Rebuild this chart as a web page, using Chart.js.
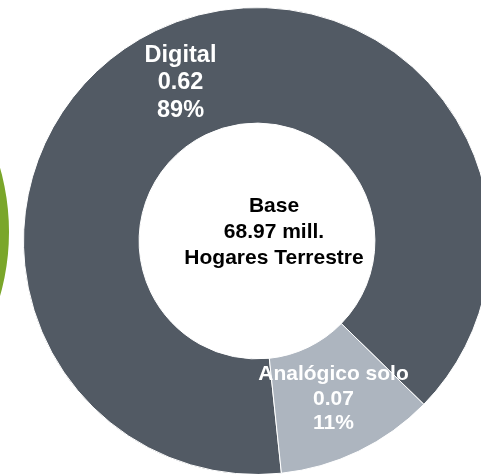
<!DOCTYPE html>
<html>
<head>
<meta charset="utf-8">
<script src="https://cdn.jsdelivr.net/npm/chart.js@4"></script>
<style>
  html, body { margin: 0; padding: 0; background: #fff; overflow: hidden; }
  body { width: 481px; height: 474px; position: relative; }
  #mainChart { position: absolute; left: 23px; top: 7px; }
  #sideChart { position: absolute; left: -461px; top: -3px; }
</style>
</head>
<body>
<canvas id="sideChart" width="470" height="470"></canvas>
<canvas id="mainChart" width="468" height="468"></canvas>
<script>
// datos del gráfico
var categories = ['Digital', 'Analógico solo'];
var shares = [89, 11];            // porcentaje
var millions = ['0.62', '0.07'];  // millones de hogares
var sliceColors = ['#525a64', '#adb5bf'];
var centerLines = ['Base', '68.97 mill.', 'Hogares Terrestre'];

// gráfico vecino (solo se ve el borde verde)
var sideShares = [100];

document.addEventListener("DOMContentLoaded", function() {
    Chart.defaults.font.family = "'Liberation Sans', Arial, sans-serif";

    // etiquetas dentro de cada sector
    var sliceLabels = {
        id: 'sliceLabels',
        afterDatasetsDraw: function(chart) {
            var ctx = chart.ctx;
            var meta = chart.getDatasetMeta(0);
            ctx.save();
            ctx.fillStyle = '#ffffff';
            ctx.textAlign = 'center';
            ctx.textBaseline = 'middle';
            meta.data.forEach(function(arc, i) {
                var pos = arc.tooltipPosition();
                var size = i === 0 ? 23.5 : 21;
                var lh = i === 0 ? 27.5 : 24.5;
                ctx.font = 'bold ' + size + 'px "Liberation Sans", Arial, sans-serif';
                var lines = [categories[i], millions[i], shares[i] + '%'];
                lines.forEach(function(t, j) {
                    ctx.fillText(t, pos.x, pos.y + (j - 1) * lh);
                });
            });
            ctx.restore();
        }
    };

    // texto central
    var centerText = {
        id: 'centerText',
        afterDraw: function(chart) {
            var ctx = chart.ctx;
            var arc = chart.getDatasetMeta(0).data[0];
            ctx.save();
            ctx.fillStyle = '#000000';
            ctx.textAlign = 'center';
            ctx.textBaseline = 'middle';
            ctx.font = 'bold 21px "Liberation Sans", Arial, sans-serif';
            centerLines.forEach(function(t, j) {
                ctx.fillText(t, arc.x + 17, arc.y - 9 + (j - 1) * 26);
            });
            ctx.restore();
        }
    };

    new Chart(document.getElementById('mainChart').getContext('2d'), {
        type: 'doughnut',
        data: {
            labels: categories,
            datasets: [{
                data: shares,
                backgroundColor: sliceColors,
                borderColor: '#ffffff',
                borderWidth: 1
            }]
        },
        options: {
            responsive: false,
            animation: false,
            devicePixelRatio: 1,
            cutout: '50.5%',
            rotation: 174,
            layout: { padding: 0 },
            plugins: {
                legend: { display: false },
                tooltip: { enabled: false }
            }
        },
        plugins: [sliceLabels, centerText]
    });

    new Chart(document.getElementById('sideChart').getContext('2d'), {
        type: 'doughnut',
        data: {
            labels: ['otro'],
            datasets: [{
                data: sideShares,
                backgroundColor: ['#7aa62a'],
                borderWidth: 0
            }]
        },
        options: {
            responsive: false,
            animation: false,
            devicePixelRatio: 1,
            cutout: '50%',
            layout: { padding: 0 },
            plugins: {
                legend: { display: false },
                tooltip: { enabled: false }
            }
        }
    });
});
</script>
</body>
</html>
